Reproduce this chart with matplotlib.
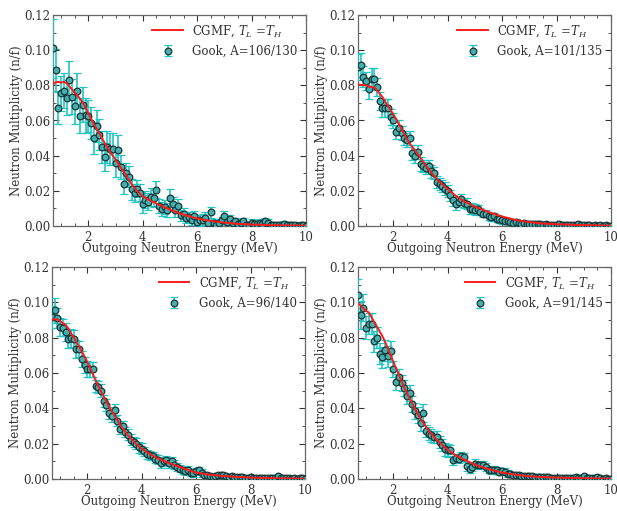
import numpy as np
import matplotlib
matplotlib.use("Agg")
import matplotlib.pyplot as plt
from matplotlib.ticker import MultipleLocator

plt.rcParams['font.family'] = ['DejaVu Serif']
plt.rcParams['mathtext.fontset'] = 'dejavuserif'

# Shared energy grid of the Gook data (MeV)
E = [0.7, 0.8, 0.9, 1.0, 1.1, 1.2, 1.3, 1.4, 1.5, 1.6, 1.7, 1.8, 1.9, 2.0,
     2.1, 2.2, 2.3, 2.4, 2.5, 2.6, 2.7, 2.8, 2.9, 3.0, 3.1, 3.2, 3.3, 3.4,
     3.5, 3.6, 3.7, 3.8, 3.9, 4.0, 4.1, 4.2, 4.3, 4.4, 4.5, 4.6, 4.7, 4.8,
     4.9, 5.0, 5.1, 5.2, 5.3, 5.4, 5.5, 5.6, 5.7, 5.8, 5.9, 6.0, 6.1, 6.2,
     6.3, 6.4, 6.5, 6.6, 6.7, 6.8, 6.9, 7.0, 7.1, 7.2, 7.3, 7.4, 7.5, 7.6,
     7.7, 7.8, 7.9, 8.0, 8.1, 8.2, 8.3, 8.4, 8.5, 8.6, 8.7, 8.8, 8.9, 9.0,
     9.1, 9.2, 9.3, 9.4, 9.5, 9.6, 9.7, 9.8, 9.9, 10.0]

gook_106 = [0.101, 0.0887, 0.067, 0.0754, 0.077, 0.073, 0.083, 0.0735, 0.068, 0.077,
            0.0627, 0.069, 0.063, 0.0625, 0.0587, 0.050, 0.0567, 0.052, 0.045, 0.039,
            0.045, 0.0437, 0.0437, 0.036, 0.0435, 0.0336, 0.024, 0.030, 0.028, 0.021,
            0.0188, 0.0213, 0.019, 0.0125, 0.015, 0.0139, 0.0165, 0.0158, 0.0207, 0.0114,
            0.0099, 0.0108, 0.0089, 0.016, 0.0123, 0.0089, 0.0116, 0.006, 0.007, 0.0047,
            0.005, 0.0036, 0.0055, 0.0023, 0.0032, 0.0036, 0.0047, 0.0017, 0.0078, 0.0017,
            0.0008, 0.0017, 0.0032, 0.0055, 0.0023, 0.0042, 0.0019, 0.0028, 0.0013, 0.0017,
            0.0027, 0.0008, 0.0004, 0.0019, 0.0013, 0.0009, 0.0017, 0.0013, 0.0027, 0.0019,
            0.0008, 0.0004, 0.0005, 0.0003, 0.0006, 0.0013, 0.0005, 0.0003, 0.0004, 0.0006,
            0.0002, 0.0004, 0.0003, 0.0002]
err_106 = [0.017, 0.012, 0.009, 0.010, 0.010, 0.010, 0.011, 0.010, 0.010, 0.010,
           0.010, 0.010, 0.010, 0.009, 0.009, 0.009, 0.009, 0.009, 0.009, 0.008,
           0.009, 0.009, 0.009, 0.008, 0.008, 0.007, 0.006, 0.006, 0.006, 0.006,
           0.005, 0.005, 0.005, 0.005, 0.005, 0.005, 0.005, 0.005, 0.005, 0.004,
           0.004, 0.004, 0.004, 0.005, 0.004, 0.004, 0.004, 0.003, 0.003, 0.003,
           0.003, 0.003, 0.003, 0.003, 0.003, 0.003, 0.003, 0.003, 0.003, 0.002,
           0.002, 0.002, 0.002, 0.003, 0.002, 0.002, 0.002, 0.002, 0.002, 0.002,
           0.002, 0.002, 0.002, 0.002, 0.002, 0.002, 0.002, 0.002, 0.002, 0.002,
           0.0015, 0.0015, 0.0015, 0.0015, 0.0015, 0.0015, 0.0015, 0.0015, 0.0015, 0.0015,
           0.0015, 0.0015, 0.0015, 0.0015]

gook_101 = [0.0906, 0.0915, 0.085, 0.0824, 0.078, 0.0836, 0.0838, 0.079, 0.071, 0.067,
            0.067, 0.067, 0.062, 0.060, 0.0535, 0.056, 0.053, 0.050, 0.049, 0.050,
            0.0418, 0.040, 0.042, 0.035, 0.034, 0.033, 0.034, 0.031, 0.030, 0.025,
            0.0237, 0.0226, 0.0213, 0.020, 0.0175, 0.0146, 0.0123, 0.0137, 0.0152, 0.013,
            0.0127, 0.0099, 0.0099, 0.0093, 0.0099, 0.008, 0.007, 0.007, 0.0055, 0.005,
            0.0055, 0.0042, 0.0038, 0.0032, 0.0028, 0.0028, 0.0023, 0.0019, 0.0023, 0.0017,
            0.0012, 0.0015, 0.0010, 0.0012, 0.0010, 0.0011, 0.0009, 0.0010, 0.0008, 0.0009,
            0.0007, 0.0006, 0.0005, 0.0007, 0.0013, 0.0005, 0.0006, 0.0004, 0.0005, 0.0004,
            0.0006, 0.0013, 0.0005, 0.0003, 0.0004, 0.0003, 0.0002, 0.0003, 0.0002, 0.0004,
            0.0002, 0.0003, 0.0002, 0.0002]
err_101 = [0.0075, 0.007, 0.006, 0.005, 0.006, 0.006, 0.006, 0.005, 0.005, 0.005,
           0.005, 0.005, 0.0045, 0.0045, 0.004, 0.004, 0.004, 0.004, 0.004, 0.004,
           0.004, 0.004, 0.004, 0.004, 0.0035, 0.0035, 0.0035, 0.0035, 0.0035, 0.0035,
           0.0035, 0.0035, 0.0035, 0.0035, 0.003, 0.003, 0.003, 0.003, 0.003, 0.003,
           0.003, 0.003, 0.003, 0.003, 0.002, 0.002, 0.002, 0.002, 0.002, 0.002,
           0.002, 0.002, 0.002, 0.002, 0.0015, 0.0015, 0.0015, 0.0015, 0.0015, 0.0015,
           0.0015, 0.0015, 0.0015, 0.0015, 0.0015, 0.0015, 0.0015, 0.0015, 0.0015, 0.0015,
           0.0012, 0.0012, 0.0012, 0.0012, 0.0012, 0.0012, 0.0012, 0.0012, 0.0012, 0.0012,
           0.0012, 0.0012, 0.0012, 0.0012, 0.0012, 0.0012, 0.0012, 0.0012, 0.0012, 0.0012,
           0.0012, 0.0012, 0.0012, 0.0012]

gook_96 = [0.0917, 0.0955, 0.0911, 0.086, 0.0857, 0.0832, 0.0794, 0.0798, 0.0794, 0.0734,
           0.0734, 0.068, 0.0643, 0.0625, 0.062, 0.062, 0.0525, 0.052, 0.050, 0.044,
           0.042, 0.0374, 0.0357, 0.0389, 0.033, 0.0285, 0.030, 0.0266, 0.0251, 0.0223,
           0.021, 0.020, 0.018, 0.0172, 0.0158, 0.014, 0.0134, 0.013, 0.0115, 0.011,
           0.009, 0.010, 0.0106, 0.009, 0.010, 0.0081, 0.0068, 0.0058, 0.0049, 0.0043,
           0.0053, 0.0036, 0.0034, 0.0043, 0.0049, 0.0034, 0.0021, 0.0020, 0.0016, 0.0014,
           0.0017, 0.0020, 0.0022, 0.0020, 0.0015, 0.0012, 0.0016, 0.0010, 0.0012, 0.0014,
           0.0011, 0.0008, 0.0007, 0.0009, 0.0006, 0.0005, 0.0007, 0.0004, 0.0006, 0.0004,
           0.0005, 0.0003, 0.0004, 0.0016, 0.0006, 0.0005, 0.0003, 0.0004, 0.0002, 0.0003,
           0.0002, 0.0003, 0.0004, 0.0002]
err_96 = [0.0065, 0.007, 0.0055, 0.005, 0.005, 0.005, 0.005, 0.005, 0.005, 0.005,
          0.0045, 0.0045, 0.0045, 0.0045, 0.0045, 0.0045, 0.0035, 0.0035, 0.0035, 0.0035,
          0.0035, 0.0035, 0.0035, 0.0035, 0.003, 0.003, 0.003, 0.003, 0.003, 0.003,
          0.003, 0.003, 0.003, 0.003, 0.0025, 0.0025, 0.0025, 0.0025, 0.0025, 0.0025,
          0.0025, 0.0025, 0.0025, 0.0025, 0.0025, 0.0025, 0.002, 0.002, 0.002, 0.002,
          0.002, 0.002, 0.002, 0.002, 0.002, 0.002, 0.0012, 0.0012, 0.0012, 0.0012,
          0.0012, 0.0012, 0.0012, 0.0012, 0.0012, 0.0012, 0.0012, 0.0012, 0.0012, 0.0012,
          0.0012, 0.0012, 0.0012, 0.0012, 0.0012, 0.0012, 0.0012, 0.0012, 0.0012, 0.0012,
          0.0012, 0.0012, 0.0012, 0.0012, 0.0012, 0.0012, 0.0012, 0.0012, 0.0012, 0.0012,
          0.0012, 0.0012, 0.0012, 0.0012]

gook_91 = [0.104, 0.093, 0.097, 0.0855, 0.088, 0.088, 0.078, 0.080, 0.071, 0.069,
           0.0728, 0.0694, 0.0723, 0.0625, 0.055, 0.0577, 0.0543, 0.0517, 0.047, 0.0487,
           0.0426, 0.0383, 0.036, 0.0317, 0.0375, 0.027, 0.0257, 0.0247, 0.0238, 0.0238,
           0.021, 0.0194, 0.0168, 0.0162, 0.0166, 0.0106, 0.0119, 0.0115, 0.0128, 0.0125,
           0.0072, 0.0058, 0.0068, 0.0087, 0.0077, 0.0081, 0.0081, 0.0068, 0.0053, 0.0049,
           0.0053, 0.0049, 0.0040, 0.0043, 0.0040, 0.0030, 0.0030, 0.0025, 0.0022, 0.0020,
           0.0018, 0.0016, 0.0018, 0.0015, 0.0016, 0.0013, 0.0014, 0.0011, 0.0012, 0.0010,
           0.0009, 0.0005, 0.0004, 0.0006, 0.0005, 0.0007, 0.0005, 0.0004, 0.0006, 0.0008,
           0.0009, 0.0006, 0.0008, 0.0017, 0.0006, 0.0004, 0.0003, 0.0006, 0.0009, 0.0003,
           0.0002, 0.0004, 0.0002, 0.0002]
err_91 = [0.009, 0.008, 0.0075, 0.0065, 0.006, 0.006, 0.006, 0.006, 0.006, 0.006,
          0.006, 0.006, 0.006, 0.0045, 0.0045, 0.0045, 0.0045, 0.0045, 0.0045, 0.0045,
          0.0045, 0.0045, 0.0045, 0.0045, 0.005, 0.0035, 0.0035, 0.0035, 0.0035, 0.0035,
          0.0035, 0.0035, 0.0035, 0.0035, 0.0025, 0.0025, 0.0025, 0.0025, 0.0025, 0.0025,
          0.0025, 0.0025, 0.0025, 0.0025, 0.002, 0.002, 0.002, 0.002, 0.002, 0.002,
          0.002, 0.002, 0.002, 0.002, 0.002, 0.002, 0.0012, 0.0012, 0.0012, 0.0012,
          0.0012, 0.0012, 0.0012, 0.0012, 0.0012, 0.0012, 0.0012, 0.0012, 0.0012, 0.0012,
          0.0012, 0.0012, 0.0012, 0.0012, 0.0012, 0.0012, 0.0012, 0.0012, 0.0012, 0.0012,
          0.0012, 0.0012, 0.0012, 0.0012, 0.0012, 0.0012, 0.0012, 0.0012, 0.0012, 0.0012,
          0.0012, 0.0012, 0.0012, 0.0012]

# CGMF calculation (T_L = T_H), read on its own grid
E_cgmf = [0.7, 0.8, 0.9, 1.0, 1.1, 1.2, 1.3, 1.4, 1.6, 1.8, 2.0, 2.2, 2.4, 2.6, 2.8,
          3.0, 3.2, 3.4, 3.6, 3.8, 4.0, 4.3, 4.6, 5.0, 5.5, 6.0, 6.5, 7.0, 7.5, 8.0,
          9.0, 10.0]
cgmf_106 = [0.0805, 0.0818, 0.082, 0.0815, 0.082, 0.0812, 0.0795, 0.0775, 0.0742, 0.0702,
            0.064, 0.058, 0.0528, 0.0472, 0.0421, 0.0377, 0.033, 0.0285, 0.0236, 0.0198,
            0.0169, 0.0143, 0.0121, 0.0093, 0.0064, 0.0043, 0.0029, 0.0019, 0.0012, 0.0008,
            0.0004, 0.0002]
cgmf_101 = [0.0805, 0.0803, 0.0801, 0.080, 0.0793, 0.079, 0.0788, 0.0772, 0.0733, 0.0683,
            0.0635, 0.058, 0.0524, 0.0468, 0.043, 0.0388, 0.0343, 0.0303, 0.0267, 0.0237,
            0.0208, 0.0171, 0.014, 0.0110, 0.0079, 0.0054, 0.0034, 0.0022, 0.0014, 0.0010,
            0.0005, 0.0002]
cgmf_96 = [0.0904, 0.0904, 0.0904, 0.0894, 0.0882, 0.0872, 0.0852, 0.0826, 0.0775, 0.0721,
           0.0662, 0.0595, 0.0527, 0.0466, 0.041, 0.0358, 0.0308, 0.0265, 0.0229, 0.0197,
           0.0172, 0.0141, 0.0116, 0.0090, 0.0062, 0.0036, 0.0024, 0.0017, 0.0012, 0.0008,
           0.0004, 0.0002]
cgmf_91 = [0.0995, 0.098, 0.0965, 0.0952, 0.0942, 0.0915, 0.0887, 0.0861, 0.0808, 0.074,
           0.0662, 0.059, 0.0518, 0.0457, 0.0395, 0.034, 0.0295, 0.0255, 0.0221, 0.0192,
           0.0166, 0.0133, 0.011, 0.0081, 0.0056, 0.0036, 0.0024, 0.0015, 0.0011, 0.0008,
           0.0004, 0.0002]

labels = ["Gook, A=106/130", "Gook, A=101/135", "Gook, A=96/140", "Gook, A=91/145"]
gook = [gook_106, gook_101, gook_96, gook_91]
errs = [err_106, err_101, err_96, err_91]
cgmf = [cgmf_106, cgmf_101, cgmf_96, cgmf_91]

W, H = 617, 511
fig = plt.figure(figsize=(W / 100, H / 100), dpi=100)
boxes = [(53, 15, 306, 226), (358, 15, 611, 226), (52, 267, 305, 479), (358, 267, 611, 479)]

for k, (l, t, r, b) in enumerate(boxes):
    ax = fig.add_axes([l / W, 1 - b / H, (r - l) / W, (b - t) / H])
    ax.plot(E_cgmf, cgmf[k], color='#ff1a1a', lw=1.4, label=r'CGMF, $T_L$ =$T_H$', zorder=4)
    ax.errorbar(E, gook[k], yerr=errs[k], fmt='o', ms=4.8, mfc='#40b0b0', mec='#1c3434',
                mew=0.9, ecolor='#22c4c4', elinewidth=1.2, capsize=3, capthick=1.1,
                label=labels[k], zorder=3)
    ax.set_xlim(0.7, 10)
    ax.set_ylim(0, 0.12)
    ax.xaxis.set_major_locator(MultipleLocator(2))
    ax.xaxis.set_minor_locator(MultipleLocator(0.5))
    ax.yaxis.set_major_locator(MultipleLocator(0.02))
    ax.yaxis.set_minor_locator(MultipleLocator(0.01))
    ax.yaxis.set_major_formatter(matplotlib.ticker.FormatStrFormatter('%.2f'))
    ax.tick_params(which='both', direction='in', top=True, right=True,
                   colors='#333333', labelsize=8.5)
    ax.tick_params(axis='y', pad=2)
    ax.tick_params(which='major', length=4, width=0.8)
    ax.tick_params(which='minor', length=2, width=0.6)
    for s in ax.spines.values():
        s.set_color('#666666')
        s.set_linewidth(0.9)
    ax.set_xlabel('Outgoing Neutron Energy (MeV)', fontsize=8.5, color='#333333', labelpad=-1)
    ax.set_ylabel('Neutron Multiplicity (n/f)', fontsize=8.5, color='#333333', labelpad=1)
    leg = ax.legend(loc='upper right', frameon=False, fontsize=8.5, handlelength=2.6,
                    borderaxespad=0.3, labelspacing=0.5)
    for txt in leg.get_texts():
        txt.set_color('#333333')

fig.savefig('out.png', dpi=100)
